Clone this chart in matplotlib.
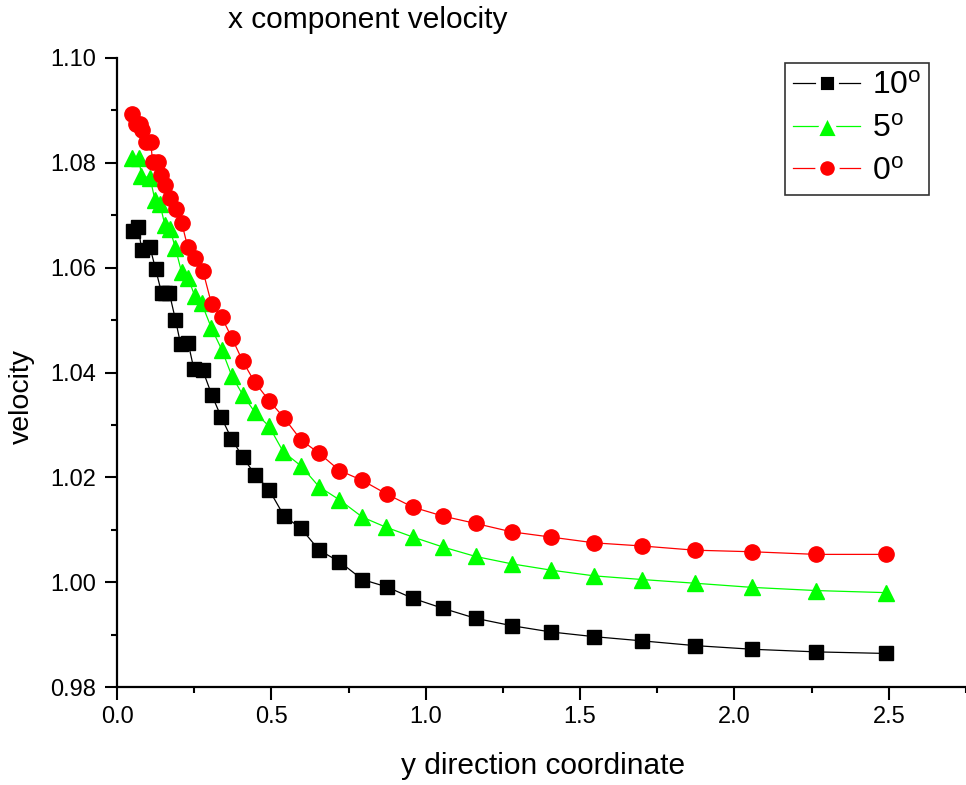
import matplotlib
matplotlib.use("Agg")
import matplotlib.pyplot as plt
from matplotlib.lines import Line2D
from matplotlib.ticker import MultipleLocator, FormatStrFormatter

plt.rcParams['font.family'] = ['Liberation Sans', 'DejaVu Sans']
plt.rcParams['mathtext.fontset'] = 'custom'
plt.rcParams['mathtext.rm'] = 'Liberation Sans'
plt.rcParams['mathtext.it'] = 'Liberation Sans'

# data
x_10 = [0.0508, 0.0689, 0.0799, 0.1068, 0.1252, 0.1447, 0.1570, 0.1693, 0.1893,
        0.2061, 0.2307, 0.2492, 0.2773, 0.3065, 0.3375, 0.3706, 0.4078, 0.4476,
        0.4929, 0.5414, 0.5955, 0.6547, 0.7207, 0.7951, 0.8738, 0.9589, 1.0560,
        1.1618, 1.2783, 1.4055, 1.5460, 1.7013, 1.8715, 2.0583, 2.2644, 2.4919]
v_10 = [1.0669, 1.0677, 1.0634, 1.0639, 1.0597, 1.0551, 1.0552, 1.0552, 1.0501,
        1.0454, 1.0456, 1.0406, 1.0405, 1.0358, 1.0315, 1.0274, 1.0238, 1.0205,
        1.0176, 1.0126, 1.0103, 1.0061, 1.0039, 1.0005, 0.9991, 0.9969, 0.9950,
        0.9931, 0.9917, 0.9905, 0.9896, 0.9888, 0.9879, 0.9872, 0.9867, 0.9864]

x_5 = [0.0476, 0.0712, 0.0793, 0.1068, 0.1230, 0.1392, 0.1553, 0.1715, 0.1893,
       0.2094, 0.2307, 0.2524, 0.2741, 0.3058, 0.3398, 0.3722, 0.4078, 0.4456,
       0.4929, 0.5382, 0.5955, 0.6547, 0.7207, 0.7951, 0.8706, 0.9589, 1.0560,
       1.1618, 1.2783, 1.4055, 1.5460, 1.7013, 1.8715, 2.0583, 2.2644, 2.4919]
v_5 = [1.0809, 1.0809, 1.0774, 1.0772, 1.0729, 1.0721, 1.0681, 1.0674, 1.0637,
       1.0591, 1.0580, 1.0545, 1.0532, 1.0485, 1.0443, 1.0393, 1.0357, 1.0325,
       1.0297, 1.0249, 1.0222, 1.0182, 1.0157, 1.0124, 1.0105, 1.0086, 1.0067,
       1.0049, 1.0035, 1.0023, 1.0012, 1.0005, 0.9998, 0.9990, 0.9984, 0.9980]

x_0 = [0.0495, 0.0605, 0.0744, 0.0819, 0.0939, 0.1091, 0.1155, 0.1317, 0.1424,
       0.1570, 0.1715, 0.1909, 0.2094, 0.2288, 0.2534, 0.2783, 0.3065, 0.3388,
       0.3722, 0.4068, 0.4456, 0.4929, 0.5405, 0.5964, 0.6547, 0.7207, 0.7951,
       0.8738, 0.9589, 1.0560, 1.1618, 1.2783, 1.4055, 1.5460, 1.7013, 1.8715,
       2.0583, 2.2644, 2.4919]
v_0 = [1.0894, 1.0875, 1.0874, 1.0862, 1.0840, 1.0840, 1.0801, 1.0801, 1.0776,
       1.0758, 1.0733, 1.0711, 1.0686, 1.0640, 1.0618, 1.0594, 1.0530, 1.0506,
       1.0466, 1.0422, 1.0382, 1.0346, 1.0314, 1.0271, 1.0246, 1.0213, 1.0194,
       1.0168, 1.0143, 1.0126, 1.0112, 1.0096, 1.0086, 1.0075, 1.0069, 1.0061,
       1.0058, 1.0053, 1.0053]

labels = ['10$^\\mathrm{o}$', '5$^\\mathrm{o}$', '0$^\\mathrm{o}$']
colors = ['black', '#00ff00', '#ff0000']
markers = ['s', '^', 'o']
sizes = [9.5, 12, 11]

fig = plt.figure(figsize=(9.66, 7.85), dpi=100)
ax = fig.add_axes([117 / 966, 98 / 785, 849 / 966, 629 / 785])

series = [(x_10, v_10), (x_5, v_5), (x_0, v_0)]
for (xs, vs), c, m, s in zip(series, colors, markers, sizes):
    ax.plot(xs, vs, color=c, lw=0.9, marker=m, ms=s, mec=c, mfc=c, clip_on=False)

ax.set_xlim(0, 2.75)
ax.set_ylim(0.98, 1.10)
ax.xaxis.set_major_locator(MultipleLocator(0.5))
ax.xaxis.set_minor_locator(MultipleLocator(0.25))
ax.yaxis.set_major_locator(MultipleLocator(0.02))
ax.yaxis.set_minor_locator(MultipleLocator(0.01))
ax.xaxis.set_major_formatter(FormatStrFormatter('%.1f'))
ax.yaxis.set_major_formatter(FormatStrFormatter('%.2f'))

for side in ['top', 'right']:
    ax.spines[side].set_visible(False)
for side in ['left', 'bottom']:
    ax.spines[side].set_linewidth(1.6)

ax.tick_params(which='major', direction='out', length=9, width=1.5, labelsize=17)
ax.tick_params(which='minor', direction='out', length=4.5, width=1.5)
ax.tick_params(axis='x', which='major', pad=5)
ax.tick_params(axis='y', which='major', pad=6)

fig.text(368 / 966, 1 - 20 / 785, 'x component velocity', fontsize=21.5,
         ha='center', va='center')
fig.text(543 / 966, 1 - 766 / 785, 'y direction coordinate', fontsize=21.5,
         ha='center', va='center')
fig.text(22 / 966, 1 - 397 / 785, 'velocity', fontsize=20.5, rotation=90,
         ha='center', va='center')

leg_sizes = [13, 17, 14]
handles = [Line2D([], [], color=c, lw=0.9, marker=m, ms=s, mfc=c,
                  mec='white', mew=3.5) for c, m, s in zip(colors, markers, leg_sizes)]
leg = fig.legend(handles, labels, loc='upper right',
                 bbox_to_anchor=(929 / 966, 1 - 63 / 785),
                 bbox_transform=fig.transFigure, fontsize=23, frameon=True,
                 fancybox=False, edgecolor='black', handlelength=2.1,
                 handletextpad=0.35, labelspacing=0.4, borderpad=0.25,
                 borderaxespad=0)
leg.get_frame().set_linewidth(1.2)

fig.savefig('out.png', dpi=100)
